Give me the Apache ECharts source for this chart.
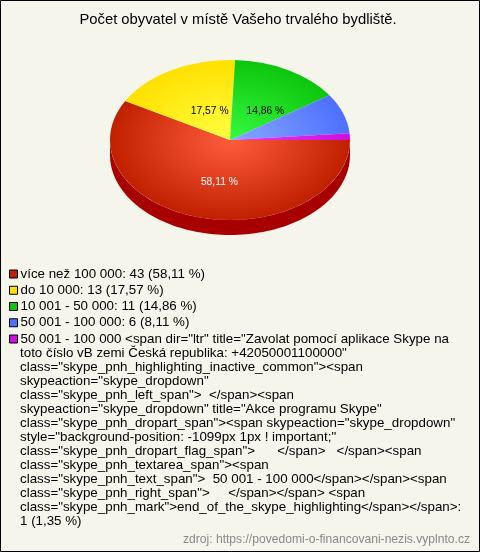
<!DOCTYPE html>
<html><head><meta charset="utf-8">
<style>html,body{margin:0;padding:0;background:#F5F5EC}#c{width:480px;height:552px}</style>
<script src="https://cdn.jsdelivr.net/npm/echarts@6/dist/echarts.min.js"></script>
</head><body><div id="c"></div>
<script>
const titleText = 'Počet obyvatel v místě Vašeho trvalého bydliště.';
const sourceText = 'zdroj: https://povedomi-o-financovani-nezis.vyplnto.cz';
const categories = [
  'více než 100 000',
  'do 10 000',
  '10 001 - 50 000',
  '50 001 - 100 000',
  '50 001 - 100 000 <span dir="ltr" title="Zavolat pomocí aplikace Skype na'
];
const counts = [43, 13, 11, 6, 1];
const percents = ['58,11 %', '17,57 %', '14,86 %', '8,11 %', '1,35 %'];
const legendLabels = [
  'více než 100 000: 43 (58,11 %)',
  'do 10 000: 13 (17,57 %)',
  '10 001 - 50 000: 11 (14,86 %)',
  '50 001 - 100 000: 6 (8,11 %)',
  '50 001 - 100 000 <span dir="ltr" title="Zavolat pomocí aplikace Skype na'
];
const legendContinuation = [
  'toto číslo vB zemi Česká republika: +42050001100000"',
  'class="skype_pnh_highlighting_inactive_common"><span',
  'skypeaction="skype_dropdown"',
  'class="skype_pnh_left_span">  </span><span',
  'skypeaction="skype_dropdown" title="Akce programu Skype"',
  'class="skype_pnh_dropart_span"><span skypeaction="skype_dropdown"',
  'style="background-position: -1099px 1px ! important;"',
  'class="skype_pnh_dropart_flag_span">      </span>   </span><span',
  'class="skype_pnh_textarea_span"><span',
  'class="skype_pnh_text_span">  50 001 - 100 000</span></span><span',
  'class="skype_pnh_right_span">     </span></span> <span',
  'class="skype_pnh_mark">end_of_the_skype_highlighting</span></span>:',
  '1 (1,35 %)'
];
const centerColors = ['#FF5C3E', '#FFFF40', '#36FA40', '#88A8FF', '#F038F0'];
const edgeColors = ['#C02000', '#FFE000', '#0DC50D', '#4D70FF', '#CC10E0'];
const sideColors = ['#A80000', '#B8A000', '#008800', '#2040C0', '#900090'];
const labelColors = ['#FFFFFF', '#000000', '#000000', null, null];
const labelNudgeX = [3, 6, 9, 0, 0];
const labelNudgeY = [7, 3, 3, 0, 0];

const CX = 230, CY = 140, RX = 120, RY = 80, DEPTH = 15;
const total = counts.reduce((a, b) => a + b, 0);
const starts = [];
counts.reduce((acc, v, i) => { starts[i] = acc; return acc + v; }, 0);

function renderSlice(i) {
  return function (params, api) {
    const a0 = starts[i] / total * Math.PI * 2;
    const a1 = (starts[i] + api.value(0)) / total * Math.PI * 2;
    const children = [];
    const s0 = Math.max(a0, 0), s1 = Math.min(a1, Math.PI);
    if (s1 > s0) {
      const top = [], bottom = [];
      const n = 90;
      for (let k = 0; k <= n; k++) {
        const a = s0 + (s1 - s0) * k / n;
        const x = CX + RX * Math.cos(a), y = CY + RY * Math.sin(a);
        top.push([x, y]);
        bottom.unshift([x, y + DEPTH]);
      }
      children.push({ type: 'polygon', shape: { points: top.concat(bottom) }, style: { fill: sideColors[i] } });
    }
    children.push({
      type: 'sector',
      originX: CX, originY: CY, scaleY: RY / RX,
      shape: { cx: CX, cy: CY, r0: 0, r: RX, startAngle: a0, endAngle: a1, clockwise: true },
      style: {
        fill: {
          type: 'radial', x: CX, y: CY, r: RX, global: true,
          colorStops: [{ offset: 0, color: centerColors[i] }, { offset: 1, color: edgeColors[i] }]
        }
      }
    });
    if (labelColors[i]) {
      const m = (a0 + a1) / 2;
      children.push({
        type: 'text', z2: 50,
        style: {
          text: percents[i],
          x: CX + RX * 0.45 * Math.cos(m) + labelNudgeX[i],
          y: CY + RY * 0.45 * Math.sin(m) + labelNudgeY[i],
          fill: labelColors[i], font: '10.3px "Liberation Sans"', align: 'center', verticalAlign: 'middle'
        }
      });
    }
    return { type: 'group', children };
  };
}

const chart = echarts.init(document.getElementById('c'), null, { renderer: 'canvas' });
chart.setOption({
  animation: false,
  backgroundColor: '#F5F5EC',
  title: {
    text: titleText, left: 238, top: 12, textAlign: 'center', padding: 0,
    textStyle: { fontFamily: 'Liberation Sans', fontSize: 14.8, fontWeight: 'normal', color: '#000' }
  },
  legend: {
    orient: 'vertical', left: 9, top: 267,
    data: categories.map(c => ({ name: c })),
    formatter: name => legendLabels[categories.indexOf(name)],
    icon: 'rect', itemWidth: 8, itemHeight: 8, itemGap: 2.25, align: 'left', selectedMode: false,
    padding: 0,
    itemStyle: { borderColor: '#000', borderWidth: 1 },
    textStyle: { fontFamily: 'Liberation Sans', fontSize: 13.35, color: '#000', padding: [0, 0, 0, -2], lineHeight: 14 }
  },
  graphic: [
    { type: 'rect', silent: true, shape: { x: 0.5, y: 0.5, width: 479, height: 551 }, style: { fill: 'none', stroke: '#000', lineWidth: 1 } },
    {
      type: 'text', silent: true, left: 20, top: 346,
      style: { text: legendContinuation.join('\n'), font: '13.35px "Liberation Sans"', lineHeight: 14, fill: '#000' }
    },
    {
      type: 'text', silent: true, right: 10, top: 534,
      style: { text: sourceText, font: '12.1px "Liberation Sans"', fill: '#888888' }
    }
  ],
  series: categories.map((c, i) => ({
    type: 'custom', name: c, coordinateSystem: 'none',
    itemStyle: { color: edgeColors[i] },
    renderItem: renderSlice(i),
    data: [[counts[i]]]
  }))
});
</script></body></html>
